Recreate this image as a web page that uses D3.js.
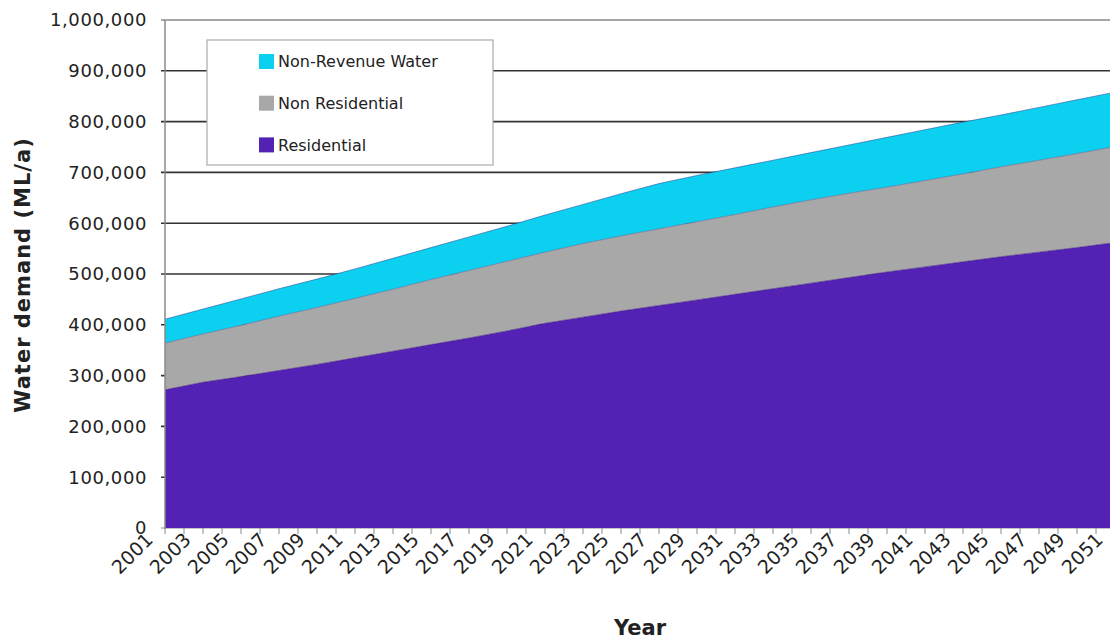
<!DOCTYPE html>
<html>
<head>
<meta charset="utf-8">
<script src="https://cdn.jsdelivr.net/npm/d3@7"></script>
<style>
  body { margin: 0; background: #fff; }
  text { font-family: "DejaVu Sans", Verdana, sans-serif; fill: #222; }
</style>
</head>
<body>
<svg id="chart" width="1110" height="639"></svg>
<script>
// demand in thousands of ML/a, every 2 years
const years = [2001, 2003, 2005, 2007, 2009, 2011, 2013, 2015, 2017, 2019, 2021, 2023, 2025,
               2027, 2029, 2031, 2033, 2035, 2037, 2039, 2041, 2043, 2045, 2047, 2049, 2051];
const residential = [272, 287, 298, 310, 322, 335, 348, 361, 374, 388, 403, 415, 427,
                     438, 449, 460, 471, 482, 493, 504, 514, 524, 534, 543, 552, 562];
const nonResidential = [92, 95, 101, 107, 112, 117, 122, 128, 133, 137, 140, 145, 148,
                        151, 154, 157, 161, 164, 166, 167, 170, 173, 177, 181, 185, 189];
const nonRevenue = [47, 49, 52, 54, 56, 58, 61, 63, 66, 69, 73, 77, 83,
                    89, 91, 92, 92, 93, 95, 98, 100, 102, 102, 104, 106, 107];
const yTicks = [0, 100, 200, 300, 400, 500, 600, 700, 800, 900, 1000];

const series = [
  {key: "res", name: "Residential", color: "#5321b4", line: "#3a1580"},
  {key: "nonRes", name: "Non Residential", color: "#a8a8a8", line: "#6a5a8a"},
  {key: "nrw", name: "Non-Revenue Water", color: "#0bd0ef", line: "#2a4a9a"}
];

const rows = years.map((yr, i) => ({
  year: yr, res: residential[i], nonRes: nonResidential[i], nrw: nonRevenue[i]
}));

var svg = d3.select("#chart");
const plotLeft = 165, plotBottom = 528, plotTop = 20;

const x = d3.scaleLinear().domain([2001, 2051]).range([plotLeft, 1115]);
const y = d3.scaleLinear().domain([0, 1000]).range([plotBottom, plotTop]);

// gridlines (behind the areas)
svg.append("g")
  .selectAll("line")
  .data(yTicks)
  .enter().append("line")
    .attr("x1", plotLeft - 4)
    .attr("x2", 1110)
    .attr("y1", d => y(d))
    .attr("y2", d => y(d))
    .attr("stroke", d => (d == 1000 || d == 0) ? "#8a8a8a" : "#333")
    .attr("stroke-width", d => d == 0 ? 1 : 1.6);

// stacked areas
const stack = d3.stack().keys(series.map(s => s.key));
const layers = stack(rows);
const area = d3.area()
  .x(d => x(d.data.year))
  .y0(d => y(d[0]))
  .y1(d => y(d[1]));
const topLine = d3.line()
  .x(d => x(d.data.year))
  .y(d => y(d[1]));

svg.append("g")
  .selectAll("path")
  .data(layers)
  .enter().append("path")
    .attr("d", area)
    .attr("fill", (d, i) => series[i].color);
svg.append("g")
  .selectAll("path")
  .data(layers)
  .enter().append("path")
    .attr("d", topLine)
    .attr("fill", "none")
    .attr("stroke", (d, i) => series[i].line)
    .attr("stroke-opacity", 0.7)
    .attr("stroke-width", 0.8);

// y axis
svg.append("line")
  .attr("x1", plotLeft).attr("x2", plotLeft)
  .attr("y1", plotTop).attr("y2", plotBottom + 1)
  .attr("stroke", "#8a8a8a").attr("stroke-width", 1.5);
svg.append("g")
  .selectAll("text")
  .data(yTicks)
  .enter().append("text")
    .attr("x", plotLeft - 18)
    .attr("y", d => y(d))
    .attr("dy", "0.36em")
    .attr("text-anchor", "end")
    .style("font-size", "18px")
    .style("letter-spacing", "0.6px")
    .text(d => d3.format(",")(d * 1000));

// x axis ticks, one per year
svg.append("g")
  .selectAll("line")
  .data(d3.range(2001, 2052))
  .enter().append("line")
    .attr("x1", d => x(d)).attr("x2", d => x(d))
    .attr("y1", plotBottom).attr("y2", plotBottom + 6)
    .attr("stroke", "#8a8a8a");
svg.append("g")
  .selectAll("text")
  .data(years)
  .enter().append("text")
    .attr("transform", d => "translate(" + (x(d) - 11) + "," + (plotBottom + 13) + ") rotate(-45)")
    .attr("text-anchor", "end")
    .style("font-size", "19px")
    .text(d => d);

// axis titles
svg.append("text")
  .attr("transform", "translate(30,275) rotate(-90)")
  .attr("text-anchor", "middle")
  .style("font-size", "21px")
  .style("font-weight", "bold")
  .style("letter-spacing", "1px")
  .text("Water demand (ML/a)");
svg.append("text")
  .attr("x", 640)
  .attr("y", 635)
  .attr("text-anchor", "middle")
  .style("font-size", "21px")
  .style("font-weight", "bold")
  .text("Year");

// legend
var g = svg.append("g").attr("transform", "translate(207,40)");
g.append("rect")
  .attr("width", 286).attr("height", 125)
  .attr("fill", "#fff")
  .attr("stroke", "#aaa").attr("stroke-width", 1.2);
const legendItems = series.slice().reverse();
const item = g.selectAll(".item")
  .data(legendItems)
  .enter().append("g")
    .attr("transform", (d, i) => "translate(52," + (21.5 + i * 41.7) + ")");
item.append("rect")
  .attr("x", 0).attr("y", -7.5)
  .attr("width", 15).attr("height", 15)
  .attr("fill", d => d.color);
item.append("text")
  .attr("x", 19)
  .attr("dy", "0.36em")
  .style("font-size", "16px")
  .text(d => d.name);
</script>
</body>
</html>
